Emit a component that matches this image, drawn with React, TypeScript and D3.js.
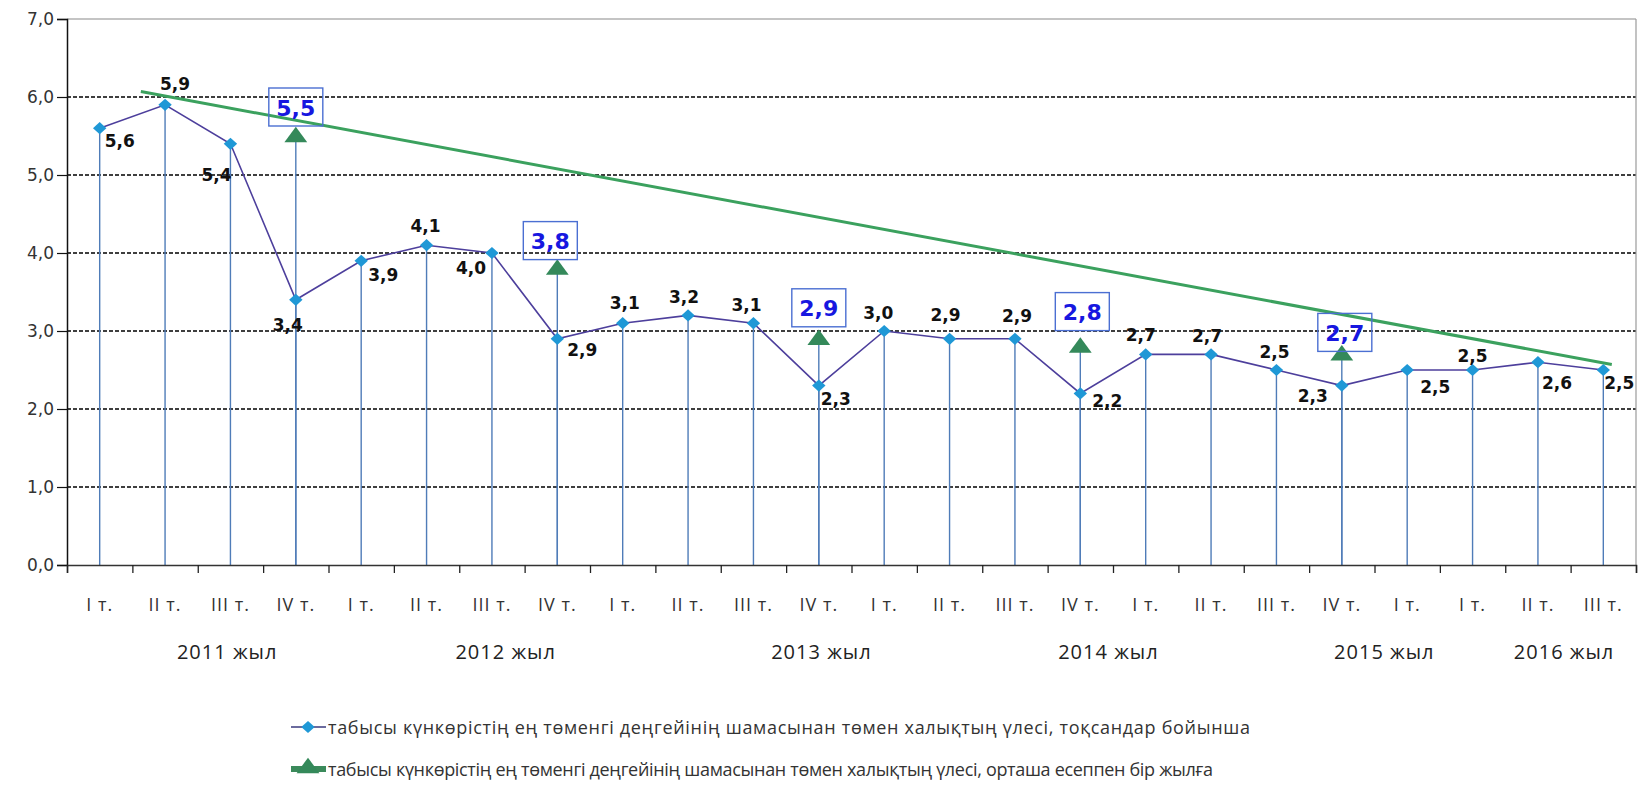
import { useEffect, useRef } from "react";
import * as d3 from "d3";

// quarters, 2011 Q1 .. 2016 Q3
const quarters = [
  "I т.", "II т.", "III т.", "IV т.",
  "I т.", "II т.", "III т.", "IV т.",
  "I т.", "II т.", "III т.", "IV т.",
  "I т.", "II т.", "III т.", "IV т.",
  "I т.", "II т.", "III т.", "IV т.",
  "I т.", "I т.", "II т.", "III т.",
];
const shareByQuarter = [
  5.6, 5.9, 5.4, 3.4, 3.9, 4.1, 4.0, 2.9, 3.1, 3.2, 3.1, 2.3,
  3.0, 2.9, 2.9, 2.2, 2.7, 2.7, 2.5, 2.3, 2.5, 2.5, 2.6, 2.5,
];
// yearly averages sit on the IV quarter
const yearAvgIndex = [3, 7, 11, 15, 19];
const yearAvg = [5.5, 3.8, 2.9, 2.8, 2.7];
const years = ["2011 жыл", "2012 жыл", "2013 жыл", "2014 жыл", "2015 жыл", "2016 жыл"];
const yearAt = [1.95, 6.21, 11.04, 15.43, 19.65, 22.4];
// hand drawn trend line, ends in (category index, value)
const trendIndex = [0.63, 23.13];
const trendValue = [6.07, 2.57];
const yTicks = [0, 1, 2, 3, 4, 5, 6, 7];
const legendLabels = [
  "табысы  күнкөрістің ең төменгі деңгейінің шамасынан төмен халықтың үлесі, тоқсандар бойынша",
  "табысы  күнкөрістің ең төменгі деңгейінің шамасынан төмен халықтың үлесі, орташа есеппен бір жылға",
];

// label placement (px from the point)
const labelOffset = [
  [20, 13], [10, -21], [-14, 31], [-8, 25], [22, 14], [-1, -19], [-21, 15], [25, 11],
  [2, -20], [-4, -18], [-7, -18], [17, 13], [-6, -18], [-4, -24], [2, -23], [27, 8],
  [-5, -19], [-4, -18], [-2, -18], [-29, 10], [28, 17], [0, -14], [19, 21], [16, 13],
];
const boxOffset = [[0, -29], [-7, -28], [0, -31], [2, -35], [3, -22]];

const W = 1650;
const H = 789;
const fmt = (v: number) => d3.format(".1f")(v).replace(".", ",");

const App = () => {
  const svgRef = useRef<SVGSVGElement>(null);

  useEffect(() => {
    const svg = d3.select(svgRef.current);
    svg.selectAll("*").remove();

    const left = 67, right = 1636, top = 19, bottom = 565;
    const x = d3.scaleLinear().domain([-0.5, quarters.length - 0.5]).range([left, right]);
    const y = d3.scaleLinear().domain([0, 7]).range([bottom, top]);

    svg.append("rect").attr("width", W).attr("height", H).attr("fill", "#fff");

    // grid
    svg.append("g")
      .selectAll("line")
      .data(yTicks.filter((t) => t > 0 && t < 7))
      .join("line")
      .attr("x1", left).attr("x2", right)
      .attr("y1", (d) => y(d)).attr("y2", (d) => y(d))
      .attr("stroke", "#000").attr("stroke-width", 1.3).attr("stroke-dasharray", "4,2");
    svg.append("line")
      .attr("x1", left).attr("x2", right).attr("y1", y(7)).attr("y2", y(7))
      .attr("stroke", "#8a8a8a").attr("stroke-width", 1.2);
    svg.append("line")
      .attr("x1", right).attr("x2", right).attr("y1", y(7)).attr("y2", y(0))
      .attr("stroke", "#9a9a9a").attr("stroke-width", 1.2);

    // drop lines
    const drops = svg.append("g").attr("stroke", "#4f7cb8").attr("stroke-width", 1.4);
    shareByQuarter.forEach((v, i) => {
      drops.append("line").attr("x1", x(i)).attr("x2", x(i)).attr("y1", y(0)).attr("y2", y(v));
    });
    yearAvg.forEach((v, k) => {
      const i = yearAvgIndex[k];
      drops.append("line").attr("x1", x(i)).attr("x2", x(i)).attr("y1", y(0)).attr("y2", y(v));
    });

    // axes
    svg.append("g")
      .attr("transform", `translate(${left},0)`)
      .call(d3.axisLeft(y).tickValues(yTicks).tickSize(10).tickFormat((d) => fmt(+d)))
      .call((g) => g.select(".domain").attr("stroke", "#111").attr("stroke-width", 1.5))
      .call((g) => g.selectAll(".tick line").attr("stroke", "#111").attr("stroke-width", 1.2))
      .call((g) =>
        g.selectAll(".tick text")
          .attr("x", -13)
          .attr("font-family", "DejaVu Sans")
          .attr("font-size", 17)
          .attr("fill", "#333")
      );

    const xTicks = d3.range(quarters.length + 1).map((i) => i - 0.5);
    svg.append("g")
      .attr("transform", `translate(0,${bottom})`)
      .call(d3.axisBottom(x).tickValues(xTicks).tickSize(8).tickFormat(() => ""))
      .call((g) => g.select(".domain").attr("stroke", "#333").attr("stroke-width", 1.5))
      .call((g) => g.selectAll(".tick line").attr("stroke", "#222").attr("stroke-width", 1.3));

    svg.append("g")
      .selectAll("text")
      .data(quarters)
      .join("text")
      .attr("x", (_, i) => x(i))
      .attr("y", 604)
      .attr("text-anchor", "middle")
      .attr("dominant-baseline", "central")
      .attr("font-family", "Open Sans")
      .attr("font-size", 18)
      .attr("letter-spacing", 1)
      .attr("fill", "#333")
      .text((d) => d);

    svg.append("g")
      .selectAll("text")
      .data(years)
      .join("text")
      .attr("x", (_, i) => x(yearAt[i]))
      .attr("y", 651)
      .attr("text-anchor", "middle")
      .attr("dominant-baseline", "central")
      .attr("font-family", "Open Sans")
      .attr("font-size", 20)
      .attr("letter-spacing", 1)
      .attr("fill", "#222")
      .text((d) => d);

    // quarterly series
    const line = d3.line<number>().x((_, i) => x(i)).y((d) => y(d));
    svg.append("path")
      .datum(shareByQuarter)
      .attr("d", line)
      .attr("fill", "none")
      .attr("stroke", "#4d3f9c")
      .attr("stroke-width", 1.6);

    // trend line
    svg.append("line")
      .attr("x1", x(trendIndex[0])).attr("y1", y(trendValue[0]))
      .attr("x2", x(trendIndex[1])).attr("y2", y(trendValue[1]))
      .attr("stroke", "#3ba15e").attr("stroke-width", 3);

    const diamond = d3.symbol().type(d3.symbolDiamond2).size(95);
    svg.append("g")
      .selectAll("path")
      .data(shareByQuarter)
      .join("path")
      .attr("transform", (d, i) => `translate(${x(i)},${y(d)}) scale(1.1,1)`)
      .attr("d", diamond)
      .attr("fill", "#1f98d6");

    const tri = d3.symbol().type(d3.symbolTriangle).size(170);
    svg.append("g")
      .selectAll("path")
      .data(yearAvg)
      .join("path")
      .attr("transform", (d, k) => `translate(${x(yearAvgIndex[k])},${y(d) + 1}) scale(1.15,0.9)`)
      .attr("d", tri)
      .attr("fill", "#34895a");

    // value labels
    svg.append("g")
      .selectAll("text")
      .data(shareByQuarter)
      .join("text")
      .attr("x", (_, i) => x(i) + labelOffset[i][0])
      .attr("y", (d, i) => y(d) + labelOffset[i][1])
      .attr("text-anchor", "middle")
      .attr("dominant-baseline", "central")
      .attr("font-family", "DejaVu Sans")
      .attr("font-weight", "bold")
      .attr("font-size", 17)
      .attr("fill", "#111")
      .text((d) => fmt(d));

    const boxes = svg.append("g");
    yearAvg.forEach((v, k) => {
      const cx = x(yearAvgIndex[k]) + boxOffset[k][0];
      const cy = y(v) + boxOffset[k][1];
      boxes.append("rect")
        .attr("x", cx - 27).attr("y", cy - 19).attr("width", 54).attr("height", 38)
        .attr("fill", "none").attr("stroke", "#4b6fd2").attr("stroke-width", 1.4);
      boxes.append("text")
        .attr("x", cx).attr("y", cy + 1)
        .attr("text-anchor", "middle")
        .attr("dominant-baseline", "central")
        .attr("font-family", "DejaVu Sans")
        .attr("font-weight", "bold")
        .attr("font-size", 22)
        .attr("fill", "#1717e0")
        .text(fmt(v));
    });

    // legend
    const lg = svg.append("g");
    const ly = [727, 769];
    const textEnd = [1250, 1213];
    lg.append("line").attr("x1", 291).attr("x2", 326).attr("y1", ly[0]).attr("y2", ly[0])
      .attr("stroke", "#3a3a7e").attr("stroke-width", 1.6);
    lg.append("path").attr("transform", `translate(308,${ly[0]}) scale(1.1,1)`).attr("d", diamond).attr("fill", "#1f98d6");
    lg.append("line").attr("x1", 291).attr("x2", 326).attr("y1", ly[1]).attr("y2", ly[1])
      .attr("stroke", "#3b8a5b").attr("stroke-width", 6);
    lg.append("path").attr("transform", `translate(308,${ly[1] - 1}) scale(1.15,0.9)`).attr("d", tri).attr("fill", "#34895a");
    legendLabels.forEach((t, k) => {
      lg.append("text")
        .attr("x", 328).attr("y", ly[k])
        .attr("dominant-baseline", "central")
        .attr("font-family", "Open Sans")
        .attr("font-size", 18)
        .attr("fill", "#333")
        .attr("textLength", textEnd[k] - 328)
        .attr("lengthAdjust", "spacing")
        .text(t);
    });
  }, []);

  return (
    <svg
      ref={svgRef}
      width={W}
      height={H}
      style={{ position: "absolute", left: 0, top: 0, display: "block" }}
    ></svg>
  );
};

export default App;
